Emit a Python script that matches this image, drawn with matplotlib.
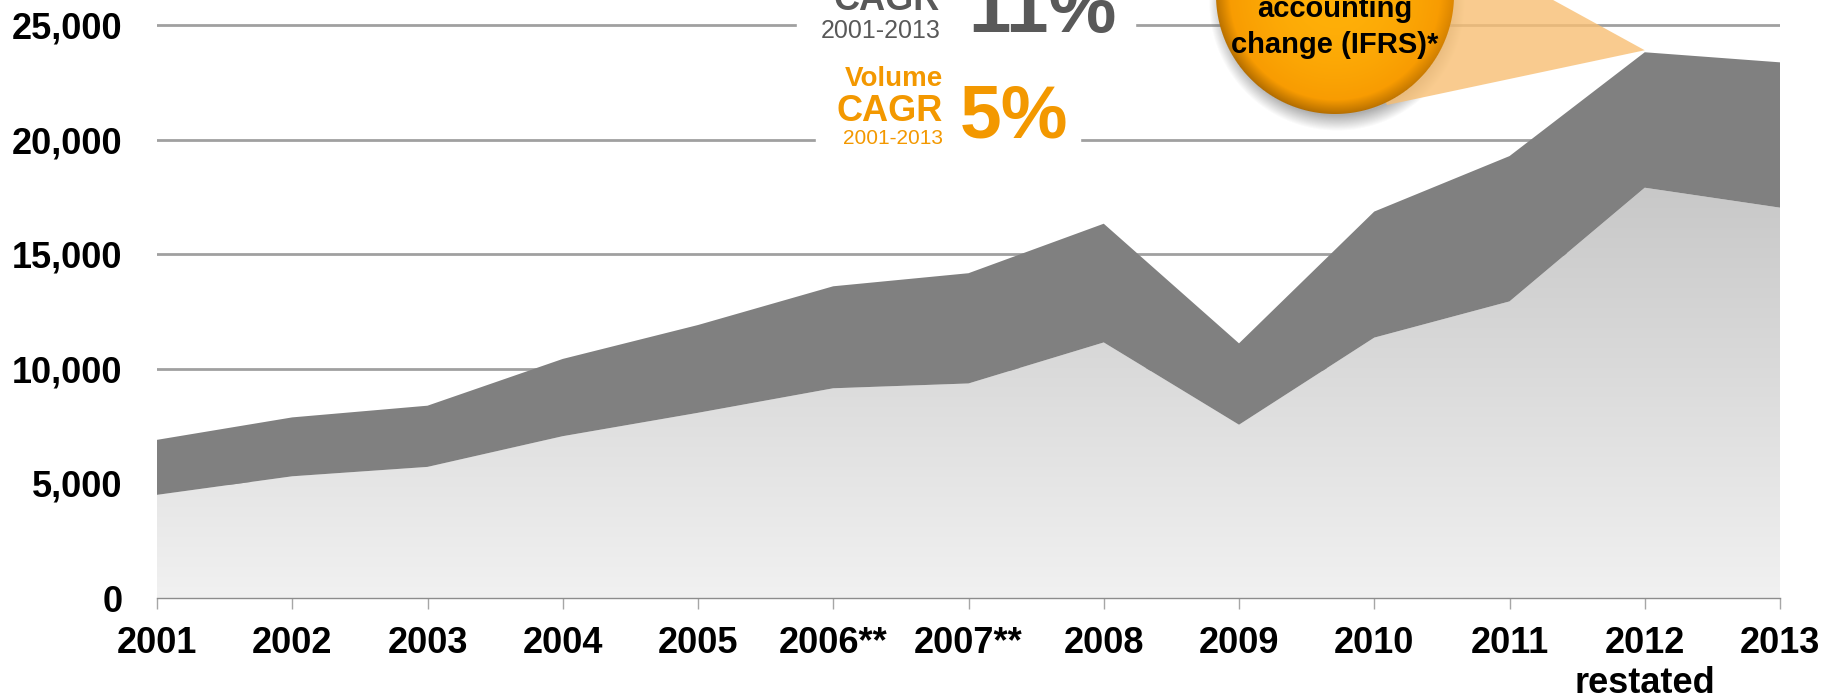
import numpy as np
import matplotlib
matplotlib.use("Agg")
import matplotlib.pyplot as plt
from matplotlib.patches import Polygon, Rectangle

plt.rcParams['font.family'] = ['Liberation Sans', 'DejaVu Sans']

# chart data
years = ['2001', '2002', '2003', '2004', '2005', '2006**', '2007**', '2008',
         '2009', '2010', '2011', '2012\nrestated', '2013']
total = [6900, 7880, 8390, 10430, 11910, 13600, 14170, 16330, 11110, 16860,
         19280, 23810, 23370]
volume = [4500, 5310, 5720, 7060, 8080, 9150, 9360, 11150, 7560, 11360,
          12940, 17900, 17030]
yticks = [0, 5000, 10000, 15000, 20000, 25000]

value_cagr = ['CAGR', '2001-2013', '11%']
volume_cagr = ['Volume', 'CAGR', '2001-2013', '5%']
ifrs_note = ['accounting', 'change (IFRS)*']

GREY_TXT = '#595959'
ORANGE = '#F39800'

W, H = 1839, 700
fig = plt.figure(figsize=(W / 100, H / 100), dpi=100)
ax = fig.add_axes([157 / W, (H - 598) / H, (1780 - 157) / W, 598 / H])
x = np.arange(len(years))

# light area with vertical gradient, clipped to the area shape
grad = np.linspace(200, 241, 256) / 255
img = np.dstack([grad, grad, grad])[:, None, :].reshape(256, 1, 3)
im = ax.imshow(img, extent=(0, len(years) - 1, 0, max(volume)),
               aspect='auto', origin='upper', interpolation='bilinear',
               zorder=2)
light = ax.fill_between(x, 0, volume, facecolor='none', edgecolor='none')
im.set_clip_path(light.get_paths()[0], transform=ax.transData)

# dark band on top
ax.fill_between(x, volume, total, facecolor='#808080', edgecolor='none',
                lw=0, zorder=2)

ax.set_xlim(0, len(years) - 1)
ax.set_ylim(0, 26090)
ax.set_xticks(x)
ax.set_xticklabels(years, fontweight='bold')
ax.set_yticks(yticks)
ax.set_yticklabels([f'{v:,}' for v in yticks], fontweight='bold')
ax.yaxis.grid(True, color='#A0A0A0', lw=2)
ax.set_axisbelow(True)
for s in ['top', 'right', 'left']:
    ax.spines[s].set_visible(False)
ax.spines['bottom'].set_color('#8C8C8C')
ax.spines['bottom'].set_linewidth(1)
ax.tick_params(axis='x', length=8, width=1, color='#A6A6A6', pad=12,
               labelsize=26)
ax.tick_params(axis='y', length=0, pad=25, labelsize=26)

# overlay in pixel coordinates (origin top-left) for the annotations
ov = fig.add_axes([0, 0, 1, 1], zorder=5)
ov.patch.set_visible(False)
ov.axis('off')

# white backgrounds that break the gridlines behind the CAGR texts
ov.add_patch(Rectangle((797, -5), 1135 - 797, 55, color='white', zorder=1))
ov.add_patch(Rectangle((816, 55), 1080 - 816, 100, color='white', zorder=1))

ov.text(940, 10, value_cagr[0], ha='right', va='baseline', fontsize=26,
        fontweight='bold', color=GREY_TXT)
ov.text(941, 38, value_cagr[1], ha='right', va='baseline', fontsize=18,
        color=GREY_TXT)
ov.text(968, 32, value_cagr[2], ha='left', va='baseline', fontsize=55,
        fontweight='bold', color=GREY_TXT)

ov.text(943, 86, volume_cagr[0], ha='right', va='baseline', fontsize=20,
        fontweight='bold', color=ORANGE)
ov.text(943, 121, volume_cagr[1], ha='right', va='baseline', fontsize=26,
        fontweight='bold', color=ORANGE)
ov.text(943, 144, volume_cagr[2], ha='right', va='baseline', fontsize=15,
        color=ORANGE)
ov.text(960, 137, volume_cagr[3], ha='left', va='baseline', fontsize=54,
        fontweight='bold', color=ORANGE)

# ball callout pointing at the 2012 peak
fig.canvas.draw()
px, py = ax.transData.transform((11, total[11]))
apex = (px, H - py - 2)
cx, cy, R = 1335, -5, 119

cone = Polygon([(cx, cy), (1544, cy), apex, (1387, 105)], closed=True,
               facecolor='#F8BF73', alpha=0.8, lw=0, zorder=2)
ov.add_patch(cone)

xs = np.arange(cx - R - 25, cx + R + 25) + 0.5
ys = np.arange(cy - R - 25, cy + R + 30) + 0.5
X, Y = np.meshgrid(xs, ys)
ext = (xs[0] - 0.5, xs[-1] + 0.5, ys[-1] + 0.5, ys[0] - 0.5)

ds = np.hypot(X - cx - 2, Y - cy - 8)
shadow = np.zeros(X.shape + (4,))
shadow[..., :3] = 0.3
shadow[..., 3] = np.clip((R + 9 - ds) / 16, 0, 1) * 0.45
ov.imshow(shadow, extent=ext, aspect='auto', interpolation='bilinear',
          zorder=1.5)

d = np.hypot(X - cx, Y - cy)
t = np.clip(d / R, 0, 1)
c_in = np.array([255, 176, 8]) / 255
c_out = np.array([246, 150, 0]) / 255
rgb = c_in + (c_out - c_in) * (t ** 2)[..., None]
ang = np.arctan2(Y - cy, X - cx)
side = 0.55 + 0.45 * np.cos(ang - np.deg2rad(120))
rim = np.clip((t - 0.88) / 0.12, 0, 1) * side
rgb = rgb * (1 - 0.28 * rim)[..., None]
ball = np.dstack([rgb, np.clip(R - d + 0.5, 0, 1)])
ov.imshow(ball, extent=ext, aspect='auto', interpolation='bilinear',
          zorder=3)

ov.text(1335, 17, ifrs_note[0], ha='center', va='baseline', fontsize=21,
        fontweight='bold', color='black', zorder=4)
ov.text(1335, 53, ifrs_note[1], ha='center', va='baseline', fontsize=21,
        fontweight='bold', color='black', zorder=4)

ov.set_xlim(0, W)
ov.set_ylim(H, 0)

fig.savefig('out.png', dpi=100)
